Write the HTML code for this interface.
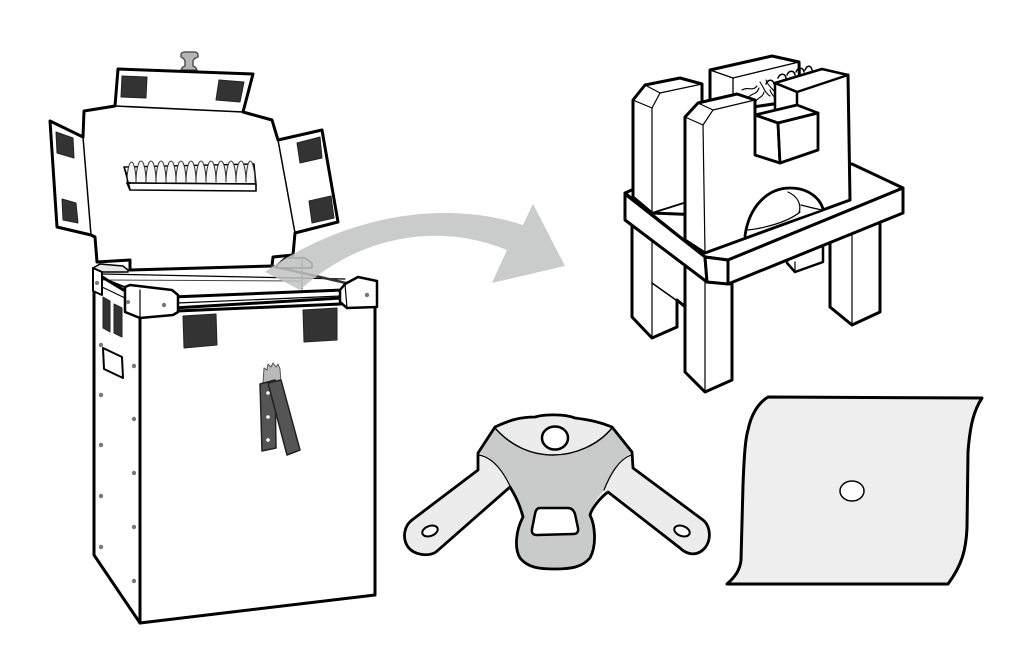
<!DOCTYPE html>
<html><head><meta charset="utf-8">
<style>html,body{margin:0;padding:0;background:#fff;}svg{display:block;}</style>
</head>
<body>
<svg width="1024" height="653" viewBox="0 0 1024 653" xmlns="http://www.w3.org/2000/svg">
<rect width="1024" height="653" fill="#fff"/>
<g fill="none" stroke="#000" stroke-linejoin="round" stroke-linecap="round">

<!-- ===== LID ===== -->
<path d="M181,55 Q181,52 185,52 L194,52 Q198,52 198,55 L198,57 Q194,58 193,61 L193,66 Q196,67 197,70 L181,70 Q182,67 185,66 L185,61 Q184,58 181,57 Z" fill="#b5b5b5" stroke="#555" stroke-width="1.5"/>
<polygon points="118,69 253,74 243,112 272,120 278,140 322,130 338,222 295,233 293,255 273,257 272,266 130,270 130,260 97,262 95,237 91,235 57,227 50,121 83,137 84,111 115,106" fill="#fff" stroke-width="3"/>
<line x1="115" y1="106" x2="243" y2="112" stroke-width="1.5"/>
<line x1="83" y1="137" x2="91" y2="235" stroke-width="1.5"/>
<line x1="278" y1="140" x2="295" y2="233" stroke-width="1.5"/>
<g fill="#333" stroke="#222" stroke-width="1">
<polygon points="122,76 147,77 146,98 121,97"/>
<polygon points="219,80 244,82 240,102 216,100"/>
<polygon points="56,132 73,138 74,158 57,153"/>
<polygon points="62,199 76,203 78,223 63,220"/>
<polygon points="297,143 320,137 322,158 300,163"/>
<polygon points="309,201 331,196 334,218 312,223"/>
</g>
<!-- comb -->
<polygon points="124,167 254,164 256,184 130,183" fill="#f2f2f2" stroke-width="1.4"/>
<path d="M127,182 C127,172 129,162 131.5,162 C134,162 136,172 136,182 M136,182 C136,172 138,161 141,161 C144,161 146,172 146,182 M146,182 C146,172 148,161 151,161 C154,161 156,172 156,182 M156,182 C156,172 158,161 161,161 C164,161 166,172 166,182 M166,182 C166,172 168,161 171,161 C174,161 176,172 176,182 M176,182 C176,172 178,161 181,161 C184,161 186,172 186,182 M186,182 C186,172 188,161 191,161 C194,161 196,172 196,182 M196,182 C196,172 198,161 201,161 C204,161 206,172 206,182 M206,182 C206,172 208,161 211,161 C214,161 216,172 216,182 M216,182 C216,172 218,161 221,161 C224,161 226,172 226,182 M226,182 C226,172 228,161 231,161 C234,161 236,172 236,182 M236,182 C236,172 238,161 241,161 C244,161 246,172 246,182 M246,182 C246,172 248,161 250,161 C253,161 255,172 255,182" fill="#f7f7f7" stroke="#333" stroke-width="1"/>
<polygon points="127,183 256,184 256,191 130,190" fill="#fff" stroke-width="1.6"/>
<line x1="124" y1="167" x2="130" y2="189" stroke-width="1.4"/>

<!-- ===== BOX ===== -->
<polygon points="94,272 140,300 140,623 94,555" fill="#fff" stroke-width="3"/>
<polygon points="140,310 375,296 375,595 140,623" fill="#fff" stroke-width="3"/>
<!-- back rim -->
<line x1="102" y1="274" x2="345" y2="279" stroke-width="1.2"/>
<line x1="103" y1="280" x2="300" y2="281" stroke="#444" stroke-width="1"/>
<line x1="272" y1="266" x2="346" y2="283" stroke="#333" stroke-width="2.5"/>
<polygon points="277,265 285,258 305,258 312,263 312,268 277,268" fill="#e6e6e6" stroke-width="1.5"/>
<line x1="302" y1="260" x2="302" y2="289" stroke="#555" stroke-width="1.2"/>
<polygon points="93,268 100,264 123,266 128,270 128,272 93,272" fill="#e6e6e6" stroke-width="1.5"/>
<!-- side rim -->
<line x1="102" y1="278" x2="127" y2="288" stroke-width="2"/>
<line x1="102" y1="287" x2="125" y2="298" stroke-width="1.2"/>
<polygon points="93,268 102,272 102,295 93,291" fill="#fff" stroke-width="2"/>
<circle cx="97" cy="283" r="2" fill="#777" stroke="none"/>
<!-- front rim -->
<line x1="172" y1="297" x2="343" y2="290" stroke-width="3"/>
<line x1="177" y1="303" x2="341" y2="296" stroke-width="1.2"/>
<line x1="177" y1="311" x2="341" y2="304" stroke-width="3"/>
<!-- corner pieces -->
<polygon points="125,287 130,285 172,290 178,295 178,312 173,315 140,318 125,312" fill="#fff" stroke-width="2.5"/>
<line x1="140" y1="290" x2="140" y2="318" stroke-width="1.2"/>
<circle cx="128" cy="302" r="2" fill="#777" stroke="none"/>
<circle cx="164" cy="305" r="2.2" fill="#777" stroke="none"/>
<polygon points="340,290 345,284 358,277 377,281 377,307 347,308 340,302" fill="#fff" stroke-width="2.5"/>
<line x1="345" y1="284" x2="347" y2="308" stroke-width="1.2"/>
<circle cx="367" cy="295" r="2.2" fill="#777" stroke="none"/>
<!-- side details -->
<polygon points="103,297 110,301 110,332 103,328" fill="#333" stroke="#222" stroke-width="1"/>
<polygon points="114,304 122,308 122,337 114,333" fill="#333" stroke="#222" stroke-width="1"/>
<polygon points="103,348 122,357 123,378 104,369" fill="#fff" stroke-width="2"/>
<g fill="#777" stroke="none">
<circle cx="101" cy="345" r="2.2"/><circle cx="101" cy="395" r="2.2"/><circle cx="101" cy="445" r="2.2"/><circle cx="101" cy="496" r="2.2"/><circle cx="101" cy="547" r="2.2"/>
<circle cx="134" cy="366" r="2.2"/><circle cx="134" cy="419" r="2.2"/><circle cx="134" cy="473" r="2.2"/><circle cx="134" cy="527" r="2.2"/><circle cx="134" cy="581" r="2.2"/>
</g>
<!-- front squares -->
<polygon points="183,316 216,314 217,345 184,348" fill="#333" stroke="#222" stroke-width="1"/>
<polygon points="303,310 337,308 337,340 304,342" fill="#333" stroke="#222" stroke-width="1"/>
<!-- latch -->
<path d="M263,383 L264,368 L267,370 L268,364 L271,367 L273,363 L276,367 L278,364 L280,369 L281,382 Z" fill="#b9b9b9" stroke="#555" stroke-width="1"/>
<polygon points="260,384 275,380 276,448 262,451" fill="#555" stroke="#222" stroke-width="1.5"/>
<polygon points="268,383 281,380 300,450 287,455" fill="#555" stroke="#222" stroke-width="1.5"/>
<g fill="#fff" stroke="none"><circle cx="268" cy="393" r="1.8"/><circle cx="268" cy="417" r="1.8"/><circle cx="268" cy="440" r="1.8"/></g>

<!-- ===== ARROW ===== -->
<path d="M265,272 C330,225 430,195 523,225 L533,204 L565,266 L492,283 L507,250 C440,222 360,235 300,290 Z" fill="#c1c2c2" stroke="none" opacity="0.85"/>

<!-- ===== TABLE ===== -->
<!-- legs -->
<polygon points="632,214 632,317 652,338 677,327 677,300 690,311 690,268" fill="#fff" stroke-width="3"/>
<line x1="652" y1="228" x2="652" y2="338" stroke-width="1.2"/>
<line x1="652" y1="283" x2="690" y2="310" stroke-width="1.6"/>
<polygon points="787,250 787,263 795,272 823,262 823,246" fill="#fff" stroke-width="2.5"/>
<line x1="795" y1="262" x2="795" y2="272" stroke-width="1.2"/>
<polygon points="830,238 830,307 852,325 880,312 880,218" fill="#fff" stroke-width="3"/>
<line x1="852" y1="233" x2="852" y2="325" stroke-width="1.2"/>
<polygon points="685,262 685,372 705,392 732,380 732,284 708,282" fill="#fff" stroke-width="3"/>
<line x1="705" y1="282" x2="705" y2="392" stroke-width="1.2"/>
<!-- slab -->
<polygon points="625,193 700,160 852,164 903,188 728,260 705,257" fill="#fff" stroke-width="3"/>
<polygon points="625,194 705,257 707,282 625,220" fill="#fff" stroke-width="3"/>
<polygon points="705,257 728,260 728,284 707,282" fill="#fff" stroke-width="3"/>
<polygon points="728,260 903,188 903,213 728,284" fill="#fff" stroke-width="3"/>
<!-- back block -->
<polygon points="710,70 772,56 799,62 800,100 733,110 710,105" fill="#fff" stroke-width="3"/>
<polyline points="710,70 733,78 799,62" stroke-width="1.3"/>
<line x1="733" y1="78" x2="733" y2="104" stroke-width="1.3"/>
<!-- spikes -->
<path d="M742,90 C748,86 752,92 757,86 M748,98 C752,92 756,96 759,88 M755,103 C758,96 762,99 764,92 M760,82 C764,88 765,93 770,96 M766,80 C768,86 772,88 775,92 M770,90 C772,96 776,98 778,102" stroke-width="1.1"/>
<path d="M766,84 c2,-5 7,-5 8,0 M778,78 c2,-5 7,-5 8,0 M787,75 c2,-5 7,-5 8,0 M796,72 c2,-5 7,-5 8,0 M805,70 c2,-5 6,-5 7,0" stroke-width="1.5"/>
<!-- back-left upright -->
<polygon points="633,100 645,85 680,78 702,84 702,215 652,213 633,197" fill="#fff" stroke-width="3"/>
<polyline points="633,100 652,108 660,93 645,85" stroke-width="1.2"/>
<line x1="660" y1="93" x2="702" y2="84" stroke-width="1.2"/>
<line x1="652" y1="108" x2="652" y2="213" stroke-width="1.2"/>
<polyline points="633,197 652,213 690,201" stroke-width="1.8"/>
<!-- front U face fill -->
<polygon points="685,117 698,103 737,94 755,100 755,160 797,150 797,92 848,75 850,200 705,253 685,240" fill="#fff" stroke="none"/>
<!-- right arm top & inner face -->
<polygon points="775,83 822,69 848,75 797,92" fill="#fff" stroke-width="2.5"/>
<polygon points="775,83 797,92 797,150 775,150" fill="#fff" stroke-width="2.5"/>
<line x1="797" y1="92" x2="848" y2="75" stroke-width="1.5"/>
<line x1="848" y1="75" x2="850" y2="200" stroke-width="3"/>
<!-- front U strokes -->
<path d="M685,240 L685,117 L698,103 L737,94 L755,100 L755,120" stroke-width="3"/>
<path d="M850,200 L705,253 L685,240" stroke-width="3"/>
<polyline points="698,103 713,110 755,100" stroke-width="1.2"/>
<polyline points="685,117 703,125 713,110" stroke-width="1.2"/>
<line x1="703" y1="125" x2="705" y2="253" stroke-width="1.2"/>
<!-- arch -->
<path d="M745,236 C749,206 768,188 790,188 C808,188 820,198 823,209" fill="#fff" stroke-width="2.8"/>
<path d="M748,230 C765,228 788,222 800,212" stroke-width="1.2"/>
<path d="M788,192 C797,196 802,204 799,213" stroke-width="1.2"/>
<path d="M801,205 Q812,208 822,210" stroke-width="1.2"/>
<!-- cube -->
<polygon points="755,115 797,105 818,113 778,123" fill="#fff" stroke-width="2.8"/>
<polygon points="755,115 778,123 780,163 755,155" fill="#fff" stroke-width="2.8"/>
<polygon points="778,123 818,113 818,150 780,163" fill="#fff" stroke-width="2.8"/>
<line x1="778" y1="123" x2="780" y2="163" stroke-width="1.2"/>

<!-- ===== BRACKET ===== -->
<path d="M495,427 C510,420 520,417 535,417 C545,414 565,414 575,418 C590,420 600,422 612,427 L632,452 L633,468 L703,520 C712,527 712,545 700,552 C693,556 685,553 680,548 L608,492 C600,498 592,508 590,515 C595,525 597,545 590,558 C582,567 572,569 555,569 C540,569 528,568 520,558 C514,548 516,530 523,517 C520,505 515,495 510,487 L436,552 C428,557 414,555 408,547 C402,538 404,526 412,520 L478,470 L478,453 Z" fill="#ececec" stroke="none"/>
<path d="M495,428 L479,453 C495,458 505,475 512,490 C518,500 522,510 523,517 C516,530 514,548 520,558 C528,568 540,569 555,569 C572,569 582,567 590,558 C597,545 595,525 590,515 C592,505 598,496 604,490 C612,475 620,460 631,453 L612,428 C598,445 575,455 553,455 C530,455 510,445 495,428 Z" fill="#c9caca" stroke="none"/>
<path d="M479,455 C495,458 505,475 512,490" stroke-width="1.2"/>
<path d="M631,455 C618,460 610,475 604,490" stroke-width="1.2"/>
<path d="M495,428 C510,445 530,455 553,455 C575,455 598,445 612,428" stroke-width="1.5"/>
<path d="M495,427 C510,420 520,417 535,417 C545,414 565,414 575,418 C590,420 600,422 612,427 L632,452 L633,468 L703,520 C712,527 712,545 700,552 C693,556 685,553 680,548 L608,492 C600,498 592,508 590,515 C595,525 597,545 590,558 C582,567 572,569 555,569 C540,569 528,568 520,558 C514,548 516,530 523,517 C520,505 515,495 510,487 L436,552 C428,557 414,555 408,547 C402,538 404,526 412,520 L478,470 L478,453 Z" stroke-width="2.8"/>
<ellipse cx="555" cy="438" rx="13" ry="11.5" fill="#fff" stroke-width="2.5"/>
<path d="M540,508 L568,508 Q573,508 575,514 L578,528 Q579,534 573,534 L537,535 Q531,535 532,529 L535,514 Q536,508 540,508 Z" fill="#fff" stroke-width="2.5"/>
<ellipse cx="430" cy="531" rx="8" ry="5" transform="rotate(-20 430 531)" fill="#fff" stroke-width="2"/>
<ellipse cx="682" cy="531" rx="8" ry="5" transform="rotate(20 682 531)" fill="#fff" stroke-width="2"/>

<!-- ===== SHEET ===== -->
<path d="M768,397 L982,398 C974,410 970,425 968,452 L967,528 C966,550 962,565 948,584 L727,584 C735,577 740,570 741,560 L743,485 C744,460 745,440 748,430 C751,415 758,403 768,397 Z" fill="#eeeeee" stroke-width="3"/>
<ellipse cx="852" cy="491" rx="12" ry="10" fill="#fff" stroke-width="1.5"/>

</g>
</svg>
</body></html>
